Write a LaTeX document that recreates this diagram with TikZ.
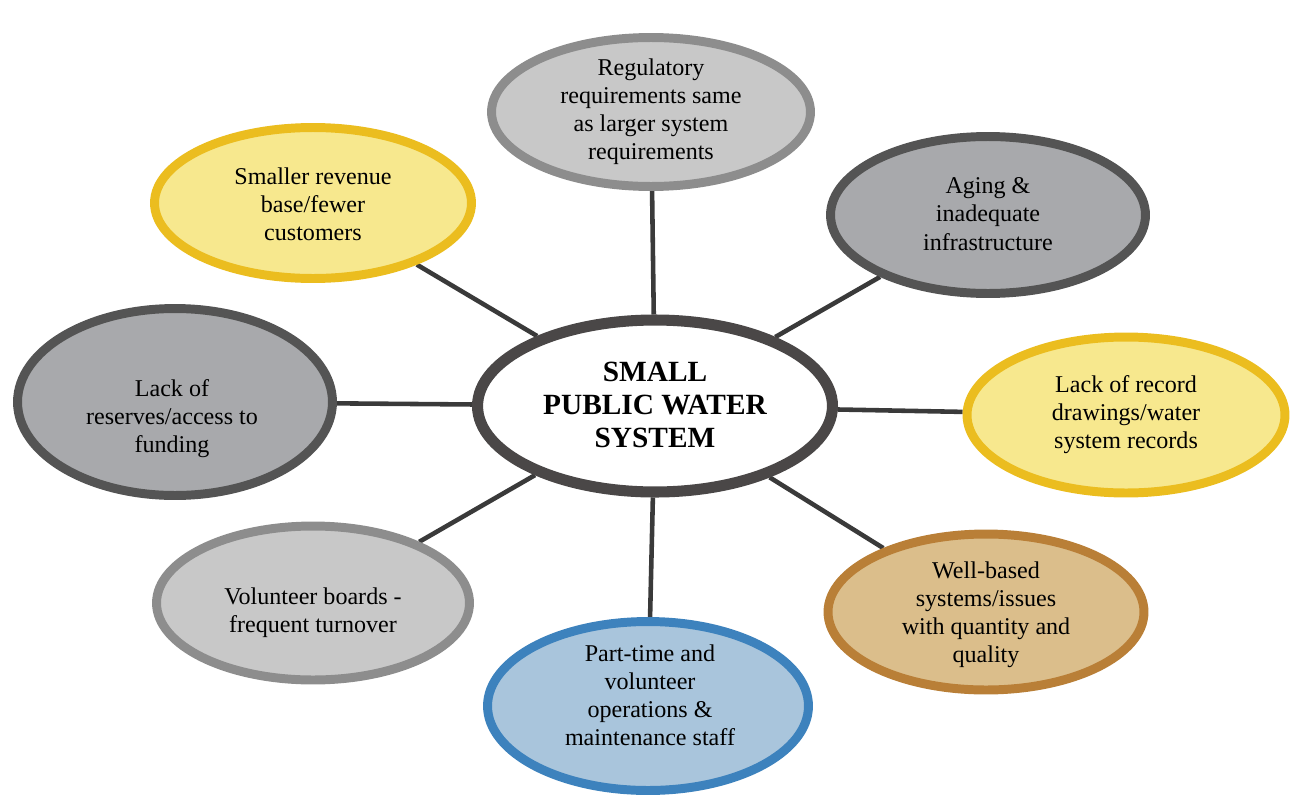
\documentclass[tikz,border=0pt]{standalone}
\usepackage{fontspec}
\setmainfont{Liberation Serif}
\usepackage{tikz}
\usetikzlibrary{calc}
\usetikzlibrary{shapes}
\usetikzlibrary{backgrounds}

\definecolor{hubring}{HTML}{4A4747}
\definecolor{linkgray}{HTML}{3A3A3A}
\definecolor{lightgray}{HTML}{C8C8C8}
\definecolor{lightgrayring}{HTML}{8D8D8D}
\definecolor{darkgray}{HTML}{A8A9AC}
\definecolor{darkgrayring}{HTML}{545454}
\definecolor{paleyellow}{HTML}{F7E88E}
\definecolor{paleyellowring}{HTML}{EBBD1F}
\definecolor{paleblue}{HTML}{A9C5DC}
\definecolor{paleblueray}{HTML}{3D82BD}
\definecolor{tan}{HTML}{DBBE8B}
\definecolor{tanring}{HTML}{B97F37}

\tikzset{bubble/.style 2 args={draw=#2, fill=#1, ellipse, line width=5.1pt, inner sep=0pt},
         words/.style={align=center, font=\fontsize{13.7}{16}\selectfont},
         link/.style={line width=2.6pt, linkgray}}

\begin{document}
\begin{tikzpicture}[x=0.02cm, y=-0.02cm]
\useasboundingbox (0,0) rectangle (1291,801);

% hub in the middle
\node[draw=hubring, fill=white, ellipse, line width=6.3pt, inner sep=0pt, minimum width=7.1cm, minimum height=3.44cm] (hub) at (655,406) {};
\node[align=center, font=\fontsize{16.7}{18.7}\selectfont\bfseries] (hub-t) at (655,405) {SMALL\\PUBLIC WATER\\SYSTEM};

% the eight issues round it
\node[bubble={lightgray}{lightgrayring}, minimum width=6.38cm, minimum height=2.98cm] (reg) at (651,112) {};
\node[words] (reg-t) at (651,112) {Regulatory\\requirements same\\as larger system\\requirements};

\node[bubble={paleyellow}{paleyellowring}, minimum width=6.34cm, minimum height=3.02cm] (rev) at (313,203) {};
\node[words] (rev-t) at (313,204) {Smaller revenue\\base/fewer\\customers};

\node[bubble={darkgray}{darkgrayring}, minimum width=6.3cm, minimum height=3.14cm] (aging) at (988,215) {};
\node[words] (aging-t) at (988,214) {Aging \&\\inadequate\\infrastructure};

\node[bubble={darkgray}{darkgrayring}, minimum width=6.3cm, minimum height=3.74cm] (res) at (175,402) {};
\node[words] (res-t) at (172,419) {Lack of\\reserves/access to\\funding};

\node[bubble={paleyellow}{paleyellowring}, minimum width=6.36cm, minimum height=3.12cm] (record) at (1126,415) {};
\node[words] (record-t) at (1126,415) {Lack of record\\drawings/water\\system records};

\node[bubble={lightgray}{lightgrayring}, minimum width=6.26cm, minimum height=3.08cm] (vol) at (313,603) {};
\node[words] (vol-t) at (313,613) {Volunteer boards -\\frequent turnover};

\node[bubble={paleblue}{paleblueray}, minimum width=6.42cm, minimum height=3.38cm] (part) at (648,706) {};
\node[words] (part-t) at (650,695) {Part-time and\\volunteer\\operations \&\\maintenance staff};

\node[bubble={tan}{tanring}, minimum width=6.32cm, minimum height=3.12cm] (well) at (986,612) {};
\node[words] (well-t) at (986,615) {Well-based\\systems/issues\\with quantity and\\quality};

% spokes, kept under the bubbles
\begin{pgfonlayer}{background}
\foreach \n in {reg,rev,aging,res,record,vol,part,well}
	\draw[link] (hub) -- (\n);
\end{pgfonlayer}

\end{tikzpicture}
\end{document}
